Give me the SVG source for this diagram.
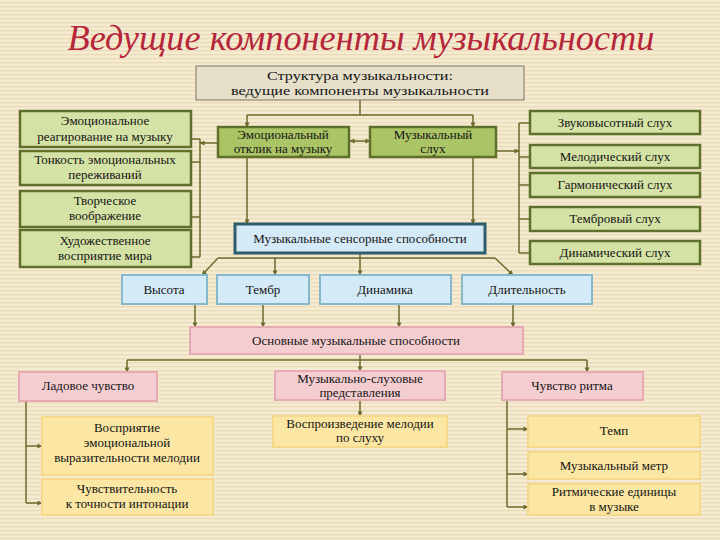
<svg xmlns="http://www.w3.org/2000/svg" width="720" height="540" viewBox="0 0 720 540">
<defs>
<pattern id="bg" width="8" height="4" patternUnits="userSpaceOnUse">
<rect width="8" height="4" fill="#f5ebd2"/>
<rect y="2" width="8" height="1.3" fill="#eadbb6"/>
</pattern>
<marker id="ar" viewBox="0 0 6 6" refX="5.5" refY="3" markerWidth="5" markerHeight="5" orient="auto-start-reverse" markerUnits="userSpaceOnUse">
<path d="M0,0 L6,3 L0,6 Z" fill="#6a6a2c"/>
</marker>
<style>
.t{font-family:"Liberation Serif","DejaVu Serif",serif;font-size:13px;fill:#141414;text-anchor:middle}
.title{font-family:"Liberation Serif",serif;font-style:italic;font-size:35px;fill:#b5263a;text-anchor:middle}
.g{fill:#d5e2a5;stroke:#5f6f2c;stroke-width:2.5}
.gd{fill:#abc465;stroke:#5f6f2c;stroke-width:2.5}
.b{fill:#d4eaf6;stroke:#86b8cc;stroke-width:2}
.bs{fill:#d4eaf6;stroke:#2e5d6c;stroke-width:3}
.p{fill:#f4cdd1;stroke:#e6aab2;stroke-width:2}
.y{fill:#fbe6a3;stroke:#f6d88a;stroke-width:2}
.top{fill:#e6e0cb;stroke:#8e8670;stroke-width:1.2}
.c{fill:none;stroke:#6a6a2c;stroke-width:1.5}
.a{marker-end:url(#ar)}
</style>
</defs>
<rect width="720" height="540" fill="url(#bg)"/>
<text class="title" x="361" y="50" textLength="587" lengthAdjust="spacingAndGlyphs">Ведущие компоненты  музыкальности</text>

<g id="connectors">
<path class="c" d="M360,100 V115 M247,115 H473"/>
<path class="c a" d="M247,115 V127"/>
<path class="c a" d="M473,115 V127"/>
<path class="c" d="M200,139 V257 M191,139 H200 M191,162 H200 M191,217 H200 M191,257 H200"/>
<path class="c a" d="M218,143 H200"/>
<path class="c a" d="M350,141 H370" marker-start="url(#ar)"/>
<path class="c" d="M519,123 V253 M519,123 H530 M519,157 H530 M519,185 H530 M519,219 H530 M519,253 H530"/>
<path class="c a" d="M496,151 H519"/>
<path class="c a" d="M247,157 V224"/>
<path class="c a" d="M473,157 V224"/>
<path class="c" d="M218,258 H495"/>
<path class="c a" d="M218,258 L202,275"/>
<path class="c a" d="M495,258 L513,275"/>
<path class="c a" d="M275,258 V275"/>
<path class="c a" d="M360,253 V275"/>
<path class="c a" d="M195,304 V327"/>
<path class="c a" d="M263,304 V327"/>
<path class="c a" d="M399,304 V327"/>
<path class="c a" d="M513,304 V327"/>
<path class="c a" d="M360,354 V371"/>
<path class="c" d="M127,360 H587"/>
<path class="c a" d="M127,360 V372"/>
<path class="c a" d="M587,360 V372"/>
<path class="c" d="M26,401 V503"/>
<path class="c a" d="M26,446 H42"/>
<path class="c a" d="M26,503 H42"/>
<path class="c a" d="M360,400 V416"/>
<path class="c" d="M507,400 V507"/>
<path class="c a" d="M507,429 H528"/>
<path class="c a" d="M507,474 H528"/>
<path class="c a" d="M507,507 H528"/>
</g>

<g id="structure"><rect class="top" x="196" y="66" width="328" height="34"/><text class="t" x="360" y="80" font-size="14" textLength="186" lengthAdjust="spacingAndGlyphs">Структура музыкальности:</text><text class="t" x="360" y="95" font-size="14" textLength="258" lengthAdjust="spacingAndGlyphs">ведущие компоненты музыкальности</text></g>

<g id="emo-react"><rect class="g" x="20" y="111" width="171" height="36"/><text class="t" x="105" y="125">Эмоциональное</text><text class="t" x="105" y="141">реагирование на музыку</text></g>
<g id="tonkost"><rect class="g" x="20" y="151" width="171" height="34"/><text class="t" x="105" y="164">Тонкость эмоциональных</text><text class="t" x="105" y="179">переживаний</text></g>
<g id="tvorch"><rect class="g" x="20" y="191" width="171" height="36"/><text class="t" x="105" y="205">Творческое</text><text class="t" x="105" y="220">воображение</text></g>
<g id="hud"><rect class="g" x="20" y="230" width="171" height="37"/><text class="t" x="105" y="245">Художественное</text><text class="t" x="105" y="260">восприятие мира</text></g>

<g id="emo-otklik"><rect class="gd" x="218" y="127" width="131" height="30"/><text class="t" x="283" y="139">Эмоциональный</text><text class="t" x="283" y="153">отклик на музыку</text></g>
<g id="muz-sluh"><rect class="gd" x="370" y="127" width="126" height="30"/><text class="t" x="433" y="139">Музыкальный</text><text class="t" x="433" y="153">слух</text></g>

<g id="zvuk"><rect class="g" x="530" y="111" width="170" height="23"/><text class="t" x="615" y="127">Звуковысотный слух</text></g>
<g id="melod"><rect class="g" x="530" y="145" width="170" height="23"/><text class="t" x="615" y="161">Мелодический слух</text></g>
<g id="garm"><rect class="g" x="530" y="173" width="170" height="24"/><text class="t" x="615" y="189">Гармонический слух</text></g>
<g id="timbr"><rect class="g" x="530" y="207" width="170" height="24"/><text class="t" x="615" y="223">Тембровый слух</text></g>
<g id="dinam"><rect class="g" x="530" y="241" width="170" height="23"/><text class="t" x="615" y="257">Динамический слух</text></g>

<g id="sensor"><rect class="bs" x="235" y="224" width="250" height="29"/><text class="t" x="360" y="243">Музыкальные сенсорные способности</text></g>

<g id="vysota"><rect class="b" x="122" y="275" width="85" height="29"/><text class="t" x="164" y="294">Высота</text></g>
<g id="tembr"><rect class="b" x="217" y="275" width="92" height="29"/><text class="t" x="263" y="294">Тембр</text></g>
<g id="dinamika"><rect class="b" x="320" y="275" width="131" height="29"/><text class="t" x="385" y="294">Динамика</text></g>
<g id="dlit"><rect class="b" x="462" y="275" width="130" height="29"/><text class="t" x="527" y="294">Длительность</text></g>

<g id="osnov"><rect class="p" x="190" y="327" width="333" height="27"/><text class="t" x="356" y="345">Основные музыкальные способности</text></g>

<g id="lad"><rect class="p" x="19" y="372" width="138" height="29"/><text class="t" x="88" y="390">Ладовое чувство</text></g>
<g id="muz-sluh-pred"><rect class="p" x="275" y="371" width="170" height="29"/><text class="t" x="360" y="383">Музыкально-слуховые</text><text class="t" x="360" y="397">представления</text></g>
<g id="ritm"><rect class="p" x="502" y="372" width="141" height="28"/><text class="t" x="572" y="390">Чувство ритма</text></g>

<g id="vospr"><rect class="y" x="42" y="417" width="171" height="58"/><text class="t" x="127" y="432">Восприятие</text><text class="t" x="127" y="447">эмоциональной</text><text class="t" x="127" y="462">выразительности мелодии</text></g>
<g id="chuvst"><rect class="y" x="42" y="479" width="171" height="36"/><text class="t" x="127" y="493">Чувствительность</text><text class="t" x="127" y="508">к точности интонации</text></g>
<g id="vospro"><rect class="y" x="273" y="416" width="174" height="31"/><text class="t" x="360" y="428">Воспроизведение мелодии</text><text class="t" x="360" y="442">по слуху</text></g>
<g id="temp"><rect class="y" x="528" y="416" width="172" height="31"/><text class="t" x="614" y="435">Темп</text></g>
<g id="metr"><rect class="y" x="528" y="452" width="172" height="27"/><text class="t" x="614" y="470">Музыкальный метр</text></g>
<g id="ritm-ed"><rect class="y" x="528" y="484" width="172" height="31"/><text class="t" x="614" y="496">Ритмические единицы</text><text class="t" x="614" y="511">в музыке</text></g>
</svg>
